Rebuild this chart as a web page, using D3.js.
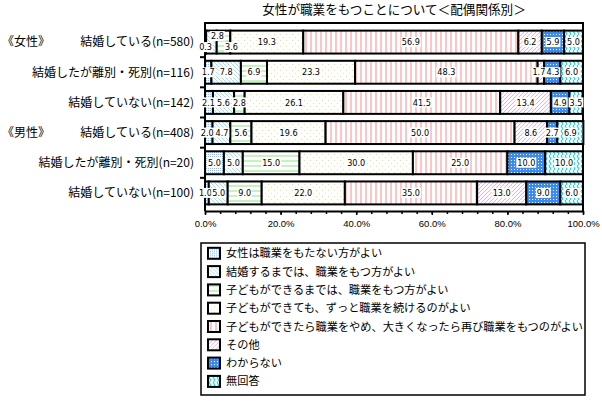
<!DOCTYPE html>
<html>
<head>
<meta charset="utf-8">
<script src="https://cdn.jsdelivr.net/npm/d3@7/dist/d3.min.js"></script>
<style>
  body { margin: 0; background: #fff; }
  text { font-family: "Noto Sans CJK JP", sans-serif; }
  .val { font-family: "Liberation Sans Narrow", "DejaVu Sans Condensed", "Liberation Sans", sans-serif; font-size: 9px; }
  .tick text { font-family: "Liberation Sans", Arial, sans-serif; font-size: 9.5px; }
</style>
</head>
<body>
<div id="canvas"></div>
<script>
// data
var title = "女性が職業をもつことについて＜配偶関係別＞";
var categories = ["結婚している(n=580)", "結婚したが離別・死別(n=116)", "結婚していない(n=142)",
                  "結婚している(n=408)", "結婚したが離別・死別(n=20)", "結婚していない(n=100)"];
var groupLabels = ["《女性》", "", "", "《男性》", "", ""];
var seriesNames = ["女性は職業をもたない方がよい",
                   "結婚するまでは、職業をもつ方がよい",
                   "子どもができるまでは、職業をもつ方がよい",
                   "子どもができても、ずっと職業を続けるのがよい",
                   "子どもができたら職業をやめ、大きくなったら再び職業をもつのがよい",
                   "その他",
                   "わからない",
                   "無回答"];
var notWork      = [0.3, 1.7, 2.1, 2.0, 5.0, 1.0];
var untilMarry   = [2.8, 7.8, 5.6, 4.7, 5.0, 5.0];
var untilChild   = [3.6, 6.9, 2.8, 5.6, 15.0, 9.0];
var keepWorking  = [19.3, 23.3, 26.1, 19.6, 30.0, 22.0];
var returnLater  = [56.9, 48.3, 41.5, 50.0, 25.0, 35.0];
var other        = [6.2, 1.7, 13.4, 8.6, 0.0, 13.0];
var dontKnow     = [5.9, 4.3, 4.9, 2.7, 10.0, 9.0];
var noAnswer     = [5.0, 6.0, 3.5, 6.9, 10.0, 6.0];
var xTicks = [0, 20, 40, 60, 80, 100];

var series = [notWork, untilMarry, untilChild, keepWorking, returnLater, other, dontKnow, noAnswer];
var keys = seriesNames.map(function(d, i) { return "s" + i; });
var table = categories.map(function(c, i) {
  var row = { cat: i };
  keys.forEach(function(k, j) { row[k] = series[j][i]; });
  return row;
});

// nudges for crowded labels (row-segment : [dx, dy])
var labelNudge = { "0-0": [0, 5], "0-1": [6, -6], "0-2": [8, 5],
                   "1-5": [-2, 0], "1-6": [0.8, 0], "3-0": [-1.5, 0], "3-1": [0.5, 0],
                   "5-0": [-1.5, 0], "5-1": [0.5, 0], "2-0": [-0.5, 0] };

var w = 602, h = 401;
var svg = d3.select("#canvas").append("svg").attr("width", w).attr("height", h);

var x = d3.scaleLinear().domain([0, 100]).range([205, 583]);
var y = d3.scaleBand().domain(d3.range(categories.length)).range([27, 208])
  .paddingInner(0.24).paddingOuter(0.12);
var axisY = 211;

// patterns
var defs = svg.append("defs");
function pat(id, size, bg) {
  var p = defs.append("pattern").attr("id", id).attr("patternUnits", "userSpaceOnUse")
    .attr("width", size[0]).attr("height", size[1]);
  p.append("rect").attr("width", size[0]).attr("height", size[1]).attr("fill", bg);
  return p;
}
function px(p, pts, col) {
  pts.forEach(function(q) {
    p.append("rect").attr("x", q[0]).attr("y", q[1]).attr("width", 1).attr("height", 1).attr("fill", col);
  });
}
var p0 = pat("p0", [2, 2], "#fff");
px(p0, [[0, 0]], "#8cc0f6");
var p1 = pat("p1", [4, 4], "#fff");
px(p1, [[0, 0], [1, 1], [2, 2], [3, 3]], "#9ee4f6");
var p2 = pat("p2", [5, 5], "#fff");
p2.append("rect").attr("y", 0).attr("width", 5).attr("height", 2).attr("fill", "#c4f2c0");
var p3 = pat("p3", [6, 6], "#fff");
px(p3, [[1, 1], [4, 4]], "#e8e880");
var p4 = pat("p4", [5, 5], "#fff");
p4.append("rect").attr("x", 0).attr("width", 2).attr("height", 5).attr("fill", "#ffc4c4");
var p5 = pat("p5", [4, 4], "#fff");
px(p5, [[3, 0], [2, 1], [1, 2], [0, 3]], "#f0b0f0");
var p6 = pat("p6", [3, 3], "#3a8af0");
px(p6, [[1, 1]], "#fff");
var p7 = pat("p7", [4, 5], "#fff");
p7.append("path").attr("d", "M2,0 Q0.5,1.25 2,2.5 Q3.5,3.75 2,5").attr("fill", "none")
  .attr("stroke", "#12d6e4").attr("stroke-width", 1.1);

// title
svg.append("text").attr("x", 394).attr("y", 13.5).attr("text-anchor", "middle")
  .style("font-size", "12.6px").text(title);

// frame
svg.append("path").attr("d", "M" + x(0) + "," + axisY + " V23 H" + x(100) + " V" + axisY)
  .attr("fill", "none").attr("stroke", "#000").attr("stroke-width", 2);

// stacked bars
var stacked = d3.stack().keys(keys)(table);
var layers = svg.selectAll("g.layer").data(stacked).enter().append("g").attr("class", "layer")
  .attr("fill", function(d, i) { return "url(#p" + i + ")"; });
layers.selectAll("rect").data(function(d) { return d.filter(function(e) { return e[1] - e[0] > 0; }); })
  .enter().append("rect")
  .attr("x", function(d) { return x(d[0]); })
  .attr("y", function(d) { return y(d.data.cat); })
  .attr("width", function(d) { return x(d[1]) - x(d[0]); })
  .attr("height", y.bandwidth())
  .attr("stroke", "#000").attr("stroke-width", 2);

// value labels
var fmt = d3.format(".1f");
var labels = svg.append("g");
stacked.forEach(function(layer, j) {
  layer.forEach(function(d) {
    var v = d[1] - d[0];
    if (v <= 0) return;
    var n = labelNudge[d.data.cat + "-" + j] || [0, 0];
    var cx = (x(d[0]) + x(d[1])) / 2 + n[0];
    var cy = y(d.data.cat) + y.bandwidth() / 2 + n[1];
    var g = labels.append("g");
    var t = g.append("text").attr("class", "val").attr("x", cx).attr("y", cy + 3.2)
      .attr("text-anchor", "middle").text(fmt(v));
    var b = t.node().getBBox();
    g.insert("rect", "text").attr("x", b.x - 1).attr("y", cy - 5).attr("width", b.width + 2)
      .attr("height", 10).attr("fill", "#fff");
  });
});

// category labels and left ticks
svg.selectAll("text.cat").data(categories).enter().append("text").attr("class", "cat")
  .attr("x", 194).attr("y", function(d, i) { return y(i) + y.bandwidth() / 2 + 4.3; })
  .attr("text-anchor", "end").style("font-size", "12px").text(function(d) { return d; });
svg.selectAll("text.grp").data(groupLabels).enter().append("text").attr("class", "grp")
  .attr("x", 2).attr("y", function(d, i) { return y(i) + y.bandwidth() / 2 + 4.3; })
  .style("font-size", "12px").text(function(d) { return d; });
var bounds = d3.range(1, categories.length).map(function(i) {
  return y(i) - y.step() * y.paddingInner() / 2;
});
svg.selectAll("line.cTick").data(bounds).enter().append("line").attr("class", "cTick")
  .attr("x1", x(0) - 5).attr("x2", x(0)).attr("y1", function(d) { return d; }).attr("y2", function(d) { return d; })
  .attr("stroke", "#000").attr("stroke-width", 2);

// x axis
var minor = svg.append("g").attr("transform", "translate(0," + axisY + ")")
  .call(d3.axisBottom(x).tickValues(d3.range(0, 101, 4)).tickSize(3).tickFormat(""));
minor.select(".domain").remove();
minor.selectAll("line").attr("stroke-width", 1.5);
var ax = svg.append("g").attr("transform", "translate(0," + axisY + ")")
  .call(d3.axisBottom(x).tickValues(xTicks).tickSize(4).tickSizeOuter(0)
    .tickFormat(function(d) { return fmt(d) + "%"; }));
ax.select(".domain").attr("stroke-width", 2);
ax.selectAll("line").attr("stroke-width", 1.5);
ax.selectAll("text").attr("dy", "0.9em").attr("fill", "#000");

// legend
var lg = svg.append("g");
lg.append("rect").attr("x", 201).attr("y", 243).attr("width", 384).attr("height", 152)
  .attr("fill", "#fff").attr("stroke", "#000").attr("stroke-width", 1.5);
var item = lg.selectAll("g.item").data(seriesNames).enter().append("g").attr("class", "item")
  .attr("transform", function(d, i) { return "translate(0," + (253.3 + i * 18.3) + ")"; });
item.append("rect").attr("x", 208).attr("y", -5.5).attr("width", 12).attr("height", 11)
  .attr("fill", function(d, i) { return "url(#p" + i + ")"; })
  .attr("stroke", "#000").attr("stroke-width", 2);
item.append("text").attr("x", 226).attr("y", 4).style("font-size", "11.2px")
  .text(function(d) { return d; });
</script>
</body>
</html>
